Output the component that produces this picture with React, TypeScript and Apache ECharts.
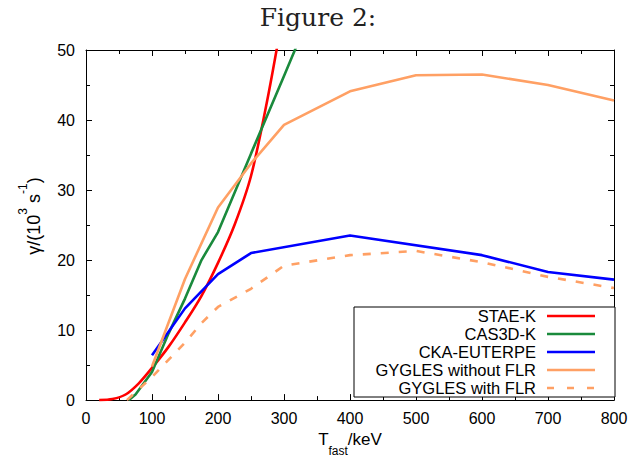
import React, { useEffect, useRef } from "react";
import * as echarts from "echarts";

const X_MIN = 0;
const X_MAX = 800;
const X_STEP = 100;
const Y_MIN = 0;
const Y_MAX = 50;
const Y_STEP = 10;

const STAE_X = [20, 40, 60, 80, 100, 125, 150, 175, 200, 225, 250, 275, 300];
const STAE_Y = [0, 0.15, 0.8, 2.4, 4.6, 7.6, 11.1, 14.9, 19.6, 25.0, 32.0, 43.0, 56.0];

const CAS_X = [65, 75, 100, 125, 150, 175, 200, 250, 300, 350];
const CAS_Y = [0, 0.8, 4.0, 9.5, 14.5, 20.0, 24.0, 35.2, 46.3, 57.5];

const CKA_X = [100, 150, 200, 250, 400, 600, 700, 800];
const CKA_Y = [6.4, 13.1, 18.0, 21.0, 23.5, 20.7, 18.3, 17.2];

const GYG_X = [100, 150, 200, 250, 300, 400, 500, 600, 700, 800];
const GYG_Y = [4.8, 17.3, 27.5, 33.8, 39.3, 44.1, 46.4, 46.5, 45.0, 42.8];

const FLR_X = [62, 100, 150, 175, 200, 250, 300, 400, 500, 600, 700, 800];
const FLR_Y = [0, 3.3, 8.2, 11.0, 13.3, 15.9, 19.2, 20.7, 21.3, 19.7, 17.6, 16.0];

const SERIES_NAMES = [
  "STAE-K",
  "CAS3D-K",
  "CKA-EUTERPE",
  "GYGLES without FLR",
  "GYGLES with FLR",
];
const SERIES_COLORS = ["#ff0000", "#1a8a3c", "#0000ff", "#ffa064", "#ffa064"];

const TITLE = "Figure 2:";
const X_NAME = "{a|T}{sub|fast}{a|/keV}";
const Y_NAME = "{a|γ/(10}{sup|3}{a| s}{sup|-1}{a|)}";

const pairs = (xs: number[], ys: number[]) => xs.map((x, i) => [x, ys[i]]);

const FONT = "'Liberation Sans', Arial, Helvetica, sans-serif";

export default function App() {
  const ref = useRef<HTMLDivElement>(null);

  useEffect(() => {
    document.body.style.margin = "0";
    if (!ref.current) return;
    const chart = echarts.init(ref.current, null, { renderer: "svg" });

    const dataSets = [
      pairs(STAE_X, STAE_Y),
      pairs(CAS_X, CAS_Y),
      pairs(CKA_X, CKA_Y),
      pairs(GYG_X, GYG_Y),
      pairs(FLR_X, FLR_Y),
    ];

    const series: any[] = dataSets.map((d, i) => ({
      name: SERIES_NAMES[i],
      type: "line",
      data: d,
      xAxisIndex: 0,
      yAxisIndex: 0,
      showSymbol: false,
      symbol: "none",
      smooth: i === 0 ? 0.3 : false,
      clip: true,
      lineStyle: {
        color: SERIES_COLORS[i],
        width: 2.6,
        type: i === 4 ? [8, 10] : "solid",
      },
      z: 3 + i,
    }));

    const legLeft = 354;
    const legTop = 307;
    const legW = 261;
    const legH = 90;
    const rowY0 = 316;
    const rowStep = 18;
    const graphics: any[] = [
      {
        type: "rect",
        z: 100,
        shape: { x: legLeft, y: legTop, width: legW, height: legH },
        style: { fill: "#ffffff", stroke: "#000000", lineWidth: 1 },
      },
      {
        type: "text",
        z: 100,
        x: 30,
        y: 216,
        rotation: Math.PI / 2,
        style: {
          text: Y_NAME,
          align: "center",
          verticalAlign: "middle",
          rich: {
            a: { fontSize: 18, fontFamily: FONT, fill: "#000", lineHeight: 26, verticalAlign: "bottom" },
            sup: { fontSize: 12, fontFamily: FONT, fill: "#000", lineHeight: 12, verticalAlign: "top" },
          },
        },
      },
    ];
    SERIES_NAMES.forEach((name, i) => {
      const y = rowY0 + i * rowStep;
      graphics.push({
        type: "text",
        z: 101,
        x: 536,
        y,
        style: {
          text: name,
          align: "right",
          verticalAlign: "middle",
          fontSize: 16.5,
          lineHeight: 16,
          fontFamily: FONT,
          fill: "#000000",
        },
      });
      graphics.push({
        type: "line",
        z: 101,
        shape: { x1: 547, y1: y, x2: 595, y2: y },
        style: {
          stroke: SERIES_COLORS[i],
          lineWidth: 2.6,
          lineDash: i === 4 ? [7, 13] : null,
        },
      });
    });

    const tickCommon = {
      axisLine: { show: true, onZero: false, lineStyle: { color: "#000", width: 1 } },
      axisTick: { show: true, inside: true, length: 6, lineStyle: { color: "#000" } },
      minorTick: { show: true, splitNumber: 2, length: 4, lineStyle: { color: "#000" } },
      splitLine: { show: false },
      minorSplitLine: { show: false },
    };

    chart.setOption({
      animation: false,
      backgroundColor: "#ffffff",
      title: {
        text: TITLE,
        left: "center",
        top: 0,
        textStyle: {
          fontFamily: "'DejaVu Serif', 'Liberation Serif', serif",
          fontSize: 25,
          fontWeight: "normal",
          color: "#222",
        },
      },
      grid: { left: 86, right: 22, top: 50, bottom: 60, containLabel: false },
      xAxis: [
        {
          type: "value",
          position: "bottom",
          min: X_MIN,
          max: X_MAX,
          interval: X_STEP,
          ...tickCommon,
          axisLabel: { show: true, margin: 10, color: "#000", fontSize: 16, fontFamily: FONT },
          name: X_NAME,
          nameLocation: "middle",
          nameGap: 30,
          nameTextStyle: {
            rich: {
              a: { fontSize: 17, fontFamily: FONT, color: "#000", lineHeight: 26, verticalAlign: "top" },
              sub: { fontSize: 12, fontFamily: FONT, color: "#000", lineHeight: 12, verticalAlign: "bottom" },
            },
          },
        },
        {
          type: "value",
          position: "top",
          min: X_MIN,
          max: X_MAX,
          interval: X_STEP,
          ...tickCommon,
          axisLabel: { show: false },
        },
      ],
      yAxis: [
        {
          type: "value",
          position: "left",
          min: Y_MIN,
          max: Y_MAX,
          interval: Y_STEP,
          ...tickCommon,
          axisLabel: { show: true, margin: 11, color: "#000", fontSize: 16, fontFamily: FONT },
        },
        {
          type: "value",
          position: "right",
          min: Y_MIN,
          max: Y_MAX,
          interval: Y_STEP,
          ...tickCommon,
          axisLabel: { show: false },
        },
      ],
      series,
      graphic: graphics,
    });

    return () => {
      chart.dispose();
    };
  }, []);

  return <div ref={ref} style={{ width: 636, height: 462 }} />;
}
